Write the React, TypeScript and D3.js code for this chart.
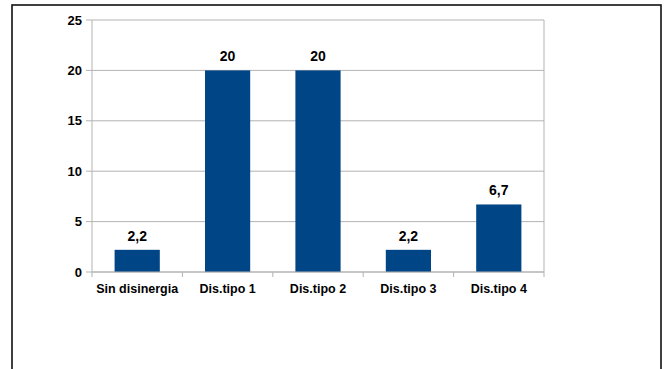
import React from "react";
import * as d3 from "d3";

const categories = ["Sin disinergia", "Dis.tipo 1", "Dis.tipo 2", "Dis.tipo 3", "Dis.tipo 4"];
const values = [2.2, 20, 20, 2.2, 6.7];
const valueLabels = ["2,2", "20", "20", "2,2", "6,7"];
const yTicks = [0, 5, 10, 15, 20, 25];

const W = 665;
const H = 369;
const plot = { left: 92, right: 544, top: 20, bottom: 272 };
const barColor = "#004586";
const gridColor = "#b3b3b3";
const font = "'Liberation Sans', Arial, sans-serif";

export default function App() {
  const x = d3
    .scaleBand<string>()
    .domain(categories)
    .range([plot.left, plot.right])
    .paddingInner(0)
    .paddingOuter(0);
  const y = d3.scaleLinear().domain([0, 25]).range([plot.bottom, plot.top]);
  const bw = x.bandwidth();
  const barW = bw / 2;

  return (
    <svg
      width={W}
      height={H}
      style={{ position: "absolute", left: 0, top: 0, background: "#fff" }}
    >
      <rect x={0} y={0} width={W} height={H} fill="#fff" />
      {/* outer frame */}
      <rect x={12} y={5} width={649} height={420} fill="none" stroke="#111" strokeWidth={1.6} />

      {/* horizontal gridlines and y ticks */}
      {yTicks.map((t) => (
        <g key={t}>
          <line x1={plot.left} x2={plot.right} y1={y(t)} y2={y(t)} stroke={gridColor} strokeWidth={1} />
          <line x1={plot.left - 6} x2={plot.left} y1={y(t)} y2={y(t)} stroke={gridColor} strokeWidth={1} />
          <text
            x={plot.left - 10}
            y={y(t) + 4.5}
            textAnchor="end"
            fontFamily={font}
            fontWeight="bold"
            fontSize={13}
            fill="#000"
          >
            {t}
          </text>
        </g>
      ))}

      {/* axes */}
      <line x1={plot.left} x2={plot.left} y1={plot.top} y2={plot.bottom} stroke={gridColor} strokeWidth={1} />
      <line x1={plot.right} x2={plot.right} y1={plot.top} y2={plot.bottom} stroke={gridColor} strokeWidth={1} />
      {d3.range(categories.length + 1).map((i) => {
        const xx = plot.left + i * bw;
        return (
          <line key={i} x1={xx} x2={xx} y1={plot.bottom} y2={plot.bottom + 5} stroke={gridColor} strokeWidth={1} />
        );
      })}

      {/* bars */}
      {categories.map((c, i) => {
        const cx = (x(c) as number) + bw / 2;
        return (
          <g key={c}>
            <rect
              x={cx - barW / 2}
              y={y(values[i])}
              width={barW}
              height={plot.bottom - y(values[i])}
              fill={barColor}
            />
            <text
              x={cx}
              y={y(values[i]) - 9}
              textAnchor="middle"
              fontFamily={font}
              fontWeight="bold"
              fontSize={14}
              fill="#000"
            >
              {valueLabels[i]}
            </text>
            <text
              x={cx}
              y={plot.bottom + 21}
              textAnchor="middle"
              fontFamily={font}
              fontWeight="bold"
              fontSize={12.5}
              fill="#000"
            >
              {c}
            </text>
          </g>
        );
      })}
      <line x1={plot.left} x2={plot.right} y1={plot.bottom} y2={plot.bottom} stroke={gridColor} strokeWidth={1} />
    </svg>
  );
}
